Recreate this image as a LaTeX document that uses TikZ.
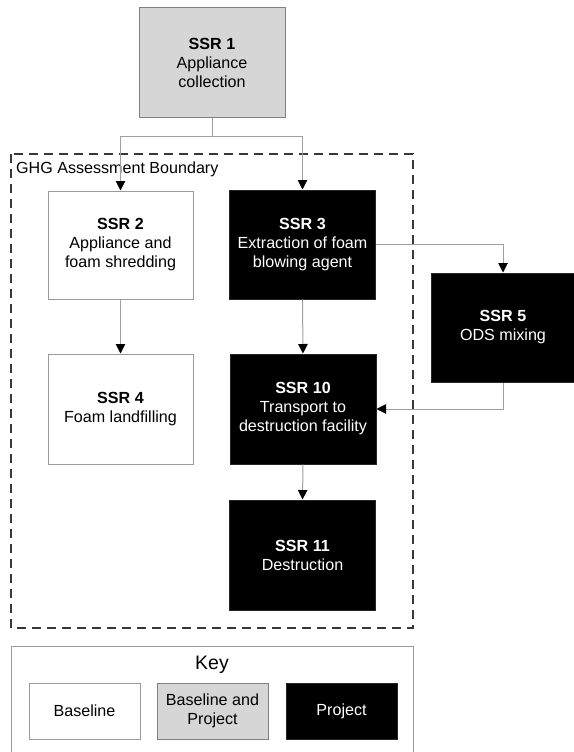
\documentclass[tikz,border=0pt]{standalone}
\usepackage{fontspec}
\setmainfont{Liberation Sans}
\usetikzlibrary{arrows.meta}
\definecolor{linegray}{HTML}{A0A0A0}
\definecolor{bordergray}{HTML}{9A9A9A}
\definecolor{fillgray}{HTML}{D6D6D6}
\definecolor{dashgray}{HTML}{383838}
\tikzset{
  ssrbox/.style={draw=bordergray, line width=1pt, inner sep=0pt, align=center,
    font=\fontsize{16.1}{19}\selectfont, minimum width=#1},
  ssrbox/.default=146pt,
  whitebox/.style={ssrbox=#1, fill=white, text=black},
  whitebox/.default=146pt,
  graybox/.style={ssrbox=#1, fill=fillgray, draw=gray, text=black},
  graybox/.default=146pt,
  blackbox/.style={ssrbox=#1, fill=black, draw=black!85, text=white},
  blackbox/.default=146pt,
  conn/.style={draw=linegray, line width=1pt},
  arr/.style={conn, -{Triangle[width=9.5pt,length=9.5pt,fill=black,color=black]}},
}
\begin{document}
\begin{tikzpicture}[x=1pt, y=1pt]
\useasboundingbox (0,0) rectangle (573,-752);
% boundary
\draw[dashgray, line width=1.4pt, dash pattern=on 9pt off 6pt] (11,-154) rectangle (413,-628);
\node[anchor=base west, font=\fontsize{16.1}{19}\selectfont, inner sep=0pt] (bnd) at (16,-173) {GHG Assessment Boundary};
% boxes
\node[graybox, minimum height=109pt] (s1) at (212,-62.5) {\textbf{SSR 1}\\Appliance\\collection};
\node[whitebox=145pt, minimum height=108pt] (s2) at (120.5,-245) {\textbf{SSR 2}\\Appliance and\\foam shredding};
\node[blackbox, minimum height=109pt] (s3) at (302.5,-244.5) {\textbf{SSR 3}\\Extraction of foam\\blowing agent};
\node[whitebox=145pt, minimum height=110pt] (s4) at (120.5,-409) {\textbf{SSR 4}\\Foam landfilling};
\node[blackbox, minimum height=110pt] (s10) at (303,-409) {\textbf{SSR 10}\\Transport to\\destruction facility};
\node[blackbox, minimum height=110pt] (s11) at (302.5,-555) {\textbf{SSR 11}\\Destruction};
\node[blackbox=144pt, minimum height=109pt] (s5) at (503,-327.5) {\textbf{SSR 5}\\ODS mixing};
% connectors
\coordinate (br) at (212,-136);
\draw[conn] (s1.south) -- (br);
\draw[arr] (br) -| (s2.north);
\draw[arr] (br) -| (s3.north);
\draw[arr] (s3.east) -| (s5.north);
\draw[arr] (s2.south) -- (s4.north);
\draw[arr] (s3.south) -- (s10.north);
\draw[arr] (s5.south) |- (s10.east);
\draw[arr] (s10.south) -- (s11.north);
% key
\draw[bordergray, line width=1pt] (11,-753) -- (11,-646) -- (413,-646) -- (413,-753);
\node[anchor=base, font=\fontsize{19.5}{23}\selectfont, inner sep=0pt] (key) at (212,-669) {Key};
\node[whitebox=111pt, minimum height=56pt] (kb) at (84.5,-711) {Baseline};
\node[graybox=111pt, minimum height=56pt] (kbp) at (212.5,-711) {Baseline and\\Project};
\node[blackbox=111pt, minimum height=56pt] (kp) at (341.5,-711) {Project};
\end{tikzpicture}
\end{document}
